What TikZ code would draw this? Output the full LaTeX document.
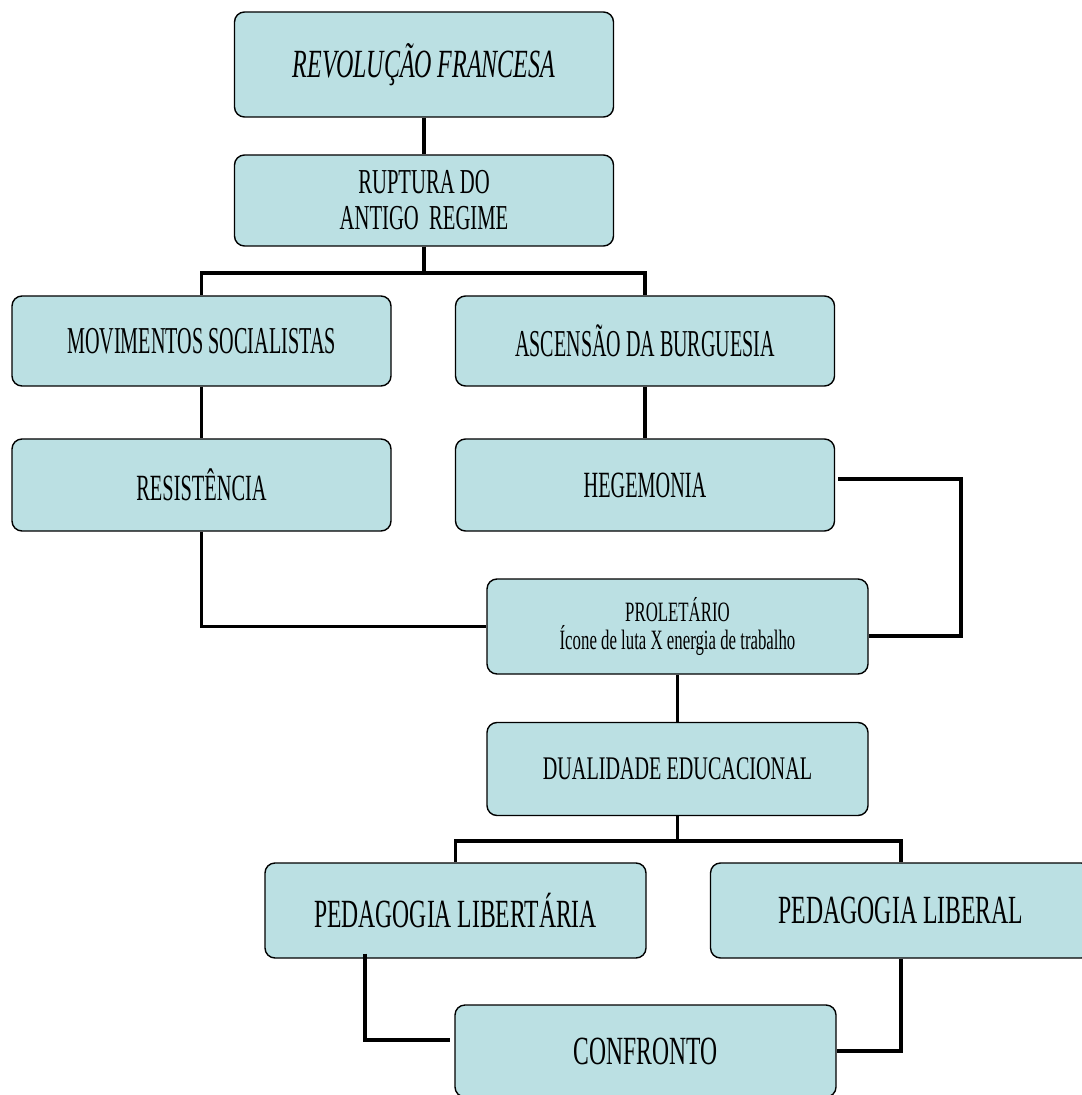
\documentclass[tikz,border=0pt]{standalone}
\usepackage{fontspec}
\setmainfont{Liberation Serif}
\definecolor{caixafundo}{RGB}{187,224,227}
\tikzset{
  caixa/.style={draw=black, line width=0.7pt, fill=caixafundo, rounded corners=5pt,
    minimum width=189.5pt, minimum height=45.5pt, inner sep=0pt, align=center},
  fonte/.style 2 args={font=\fontsize{#1}{#1}\selectfont\addfontfeature{FakeStretch=#2}},
  liga/.style={line width=1.9pt},
}
\begin{document}
\begin{tikzpicture}[x=0.5pt,y=-0.5pt]
	\useasboundingbox (0,0) rectangle (1081,1095);

	\node[caixa, minimum height=52.5pt, fonte={20}{0.6}] (rev) at (424,64.5) {\raisebox{3pt}{\itshape REVOLUÇÃO FRANCESA}};
	\node[caixa, font=\fontsize{17.5}{18}\selectfont\addfontfeature{FakeStretch=0.59}] (rup) at (424,200.5) {RUPTURA DO\\ANTIGO\ \ REGIME};

	\node[caixa, minimum height=45pt, fonte={19}{0.531}] (mov) at (201.5,341) {MOVIMENTOS SOCIALISTAS};
	\node[caixa, minimum height=45pt, fonte={19}{0.527}] (asc) at (645,341) {ASCENSÃO DA BURGUESIA};
	\node[caixa, minimum height=46pt, fonte={18.5}{0.551}] (res) at (201.5,485) {RESISTÊNCIA};
	\node[caixa, minimum height=46pt, fonte={18.5}{0.547}] (heg) at (645,485) {HEGEMONIA};

	\node[caixa, minimum width=190.5pt, minimum height=47.5pt, fonte={14}{0.6}] (pro) at (677.5,626.5) {PROLETÁRIO\\Ícone de luta X energia de trabalho};
	\node[caixa, minimum width=190.5pt, minimum height=46.5pt, fonte={16.5}{0.611}] (dua) at (677.5,769) {DUALIDADE EDUCACIONAL};

	\node[caixa, minimum width=190.5pt, minimum height=47.5pt, fonte={20}{0.59}] (plt) at (455.5,910.5) {PEDAGOGIA LIBERTÁRIA};
	\node[caixa, minimum width=190.5pt, minimum height=47.5pt, fonte={20}{0.593}] (plb) at (901,910.5) {PEDAGOGIA LIBERAL};
	\node[caixa, minimum width=190.5pt, minimum height=46pt, fonte={20}{0.59}] (con) at (645.5,1051) {CONFRONTO};

	% ligacoes
	\draw[liga] (rev) -- (rup);
	\draw[liga] (rup.south) -- ++(0,26) -| (mov.north);
	\draw[liga] (rup.south) -- ++(0,26) -| (asc.north);
	\draw[liga] (mov) -- (res);
	\draw[liga] (asc) -- (heg);
	\draw[liga] (res.south) |- (pro.west);
	\draw[liga] ([xshift=1.5pt,yshift=3pt]heg.east) -- ++(123,0) |- ([yshift=-4.75pt]pro.east);

	\draw[liga] (pro) -- (dua);
	\draw[liga] (dua.south) -- ++(0,25) -| (plt.north);
	\draw[liga] (dua.south) -- ++(0,25) -| (plb.north);
	\draw[liga] ([xshift=-45.25pt,yshift=2.5pt]plt.south) |- ([xshift=-2pt,yshift=5.5pt]con.west);
	\draw[liga] (plb.south) |- (con.east);

\end{tikzpicture}
\end{document}
